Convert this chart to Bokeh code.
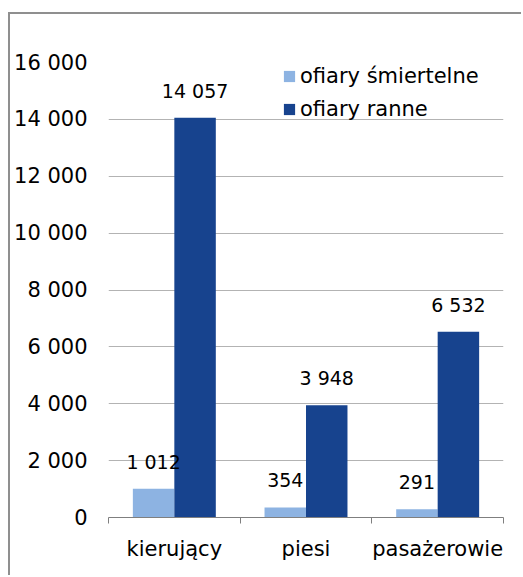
from bokeh.plotting import figure
from bokeh.models import ColumnDataSource, Range1d, FixedTicker, LabelSet, Legend, LegendItem
from bokeh.transform import dodge
from bokeh.core.properties import value
from bokeh.embed import file_html
from bokeh.resources import INLINE

categories = ["kierujący", "piesi", "pasażerowie"]
fatal = [1012, 354, 291]
injured = [14057, 3948, 6532]
series_names = ["ofiary śmiertelne", "ofiary ranne"]
y_ticks = [0, 2000, 4000, 6000, 8000, 10000, 12000, 14000, 16000]
y_tick_labels = ["0", "2 000", "4 000", "6 000", "8 000", "10 000", "12 000", "14 000", "16 000"]

FONT = "DejaVu Sans"
LIGHT = "#8db3e2"
DARK = "#17438e"

def fmt(v):
    return f"{v:,}".replace(",", " ")

xs = [i + 0.5 for i in range(len(categories))]
src = ColumnDataSource(dict(
    x=xs, fatal=fatal, injured=injured,
    fatal_lbl=[fmt(v) for v in fatal],
    injured_lbl=[fmt(v) for v in injured],
))

p = figure(width=513, height=563, output_backend="svg", toolbar_location=None,
           x_range=Range1d(0, 3), y_range=Range1d(0, 16000),
           min_border_left=98, min_border_right=20, min_border_top=48, min_border_bottom=60)
p.margin = (12, 0, 0, 8)
p.styles = {"border-left": "2px solid #8f8f8f", "border-top": "2px solid #8f8f8f"}
p.outline_line_color = None
p.background_fill_color = "white"
p.border_fill_color = "white"

bw = 0.315
r1 = p.vbar(x=dodge("x", -bw / 2), top="fatal", width=bw, source=src, color=LIGHT, line_color=None)
r2 = p.vbar(x=dodge("x", bw / 2), top="injured", width=bw, source=src, color=DARK, line_color=None)

for col, ycol, off in (("fatal_lbl", "fatal", -bw / 2), ("injured_lbl", "injured", bw / 2)):
    p.add_layout(LabelSet(x=dodge("x", off), y=ycol, text=col, source=src,
                          y_offset=27, text_align="center", text_baseline="middle",
                          text_font=value(FONT), text_font_size="19px", text_color="black"))

# y axis
p.yaxis.ticker = FixedTicker(ticks=y_ticks)
p.yaxis.major_label_overrides = {t: l for t, l in zip(y_ticks, y_tick_labels)}
p.yaxis.axis_line_color = None
p.yaxis.major_tick_line_color = None
p.yaxis.major_tick_out = 0
p.yaxis.major_tick_in = 0
p.yaxis.minor_tick_line_color = None
p.yaxis.major_label_text_font = FONT
p.yaxis.major_label_text_font_size = "21px"
p.yaxis.major_label_text_color = "black"
p.yaxis.major_label_standoff = 21

# x axis
p.xaxis.ticker = FixedTicker(ticks=xs, minor_ticks=[0, 1, 2, 3])
p.xaxis.major_label_overrides = {x: c for x, c in zip(xs, categories)}
p.xaxis.axis_line_color = "#7f7f7f"
p.xaxis.major_tick_line_color = None
p.xaxis.major_tick_out = 0
p.xaxis.major_tick_in = 0
p.xaxis.minor_tick_line_color = "#7f7f7f"
p.xaxis.minor_tick_out = 6
p.xaxis.minor_tick_in = 0
p.xaxis.major_label_text_font = FONT
p.xaxis.major_label_text_font_size = "21px"
p.xaxis.major_label_text_color = "black"
p.xaxis.major_label_standoff = 13

p.xgrid.grid_line_color = None
p.ygrid.ticker = FixedTicker(ticks=y_ticks)
p.ygrid.grid_line_color = "#b3b3b3"

legend = Legend(items=[LegendItem(label=series_names[0], renderers=[r1]),
                       LegendItem(label=series_names[1], renderers=[r2])],
                location=(174, 396), orientation="vertical",
                glyph_width=14, glyph_height=14, label_height=22, spacing=9,
                padding=0, margin=0, label_standoff=4,
                label_text_font=FONT, label_text_font_size="21px", label_text_color="black",
                border_line_color=None, background_fill_alpha=0)
p.add_layout(legend)

open("out.html", "w").write(file_html(p, INLINE))
